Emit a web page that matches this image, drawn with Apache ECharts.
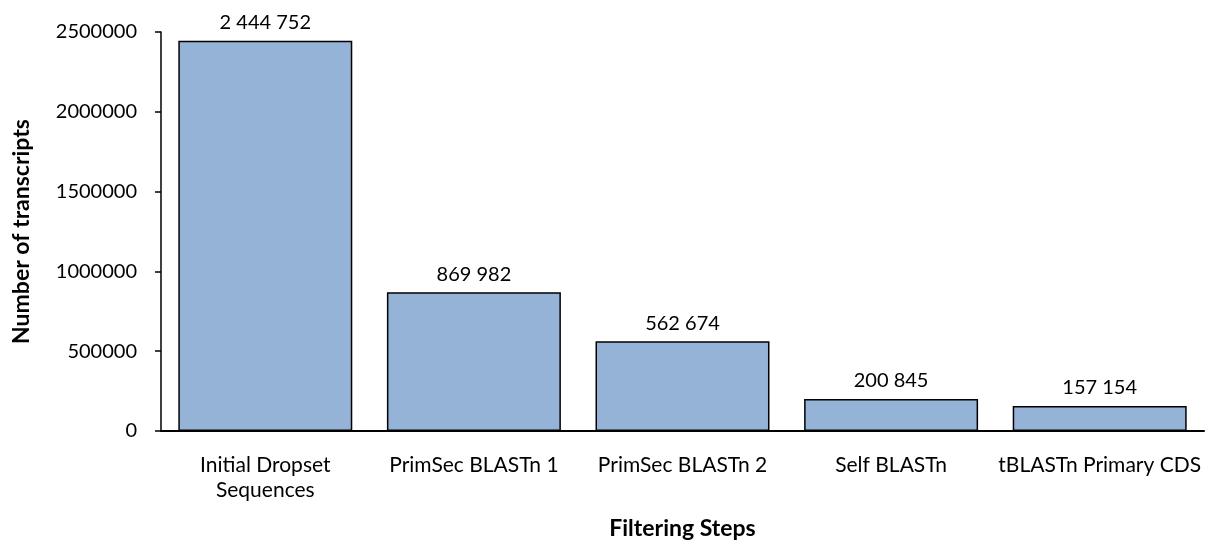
<!DOCTYPE html>
<html>
<head>
<meta charset="utf-8">
<script src="https://cdn.jsdelivr.net/npm/echarts@6/dist/echarts.min.js"></script>
<style>
  html, body { margin: 0; padding: 0; background: #fff; }
  #chart { width: 1216px; height: 543px; }
</style>
</head>
<body>
<div id="chart"></div>
<script>
// Filtering pipeline: transcripts retained after each step
const categories = [
  'Initial Dropset\nSequences',
  'PrimSec BLASTn 1',
  'PrimSec BLASTn 2',
  'Self BLASTn',
  'tBLASTn Primary CDS'
];
const transcripts = [2444752, 869982, 562674, 200845, 157154];
const yTicks = { min: 0, max: 2500000, interval: 500000 };

const FONT = 'Lato, "Open Sans", sans-serif';

// thousands grouped with a space, e.g. 2 444 752
function spaced(n) {
  return String(n).replace(/\B(?=(\d{3})+(?!\d))/g, ' ');
}

const chart = echarts.init(document.getElementById('chart'), null, { renderer: 'canvas' });
chart.setOption({
  animation: false,
  grid: { left: 161, right: 12, top: 32, bottom: 112, containLabel: false, outerBoundsMode: 'none' },
  xAxis: {
    type: 'category',
    data: categories,
    name: 'Filtering Steps',
    nameLocation: 'middle',
    nameGap: 86,
    nameTextStyle: { fontFamily: FONT, fontSize: 23, fontWeight: 'bold', color: '#000' },
    axisLine: { lineStyle: { color: '#000', width: 2 } },
    axisTick: { show: false },
    axisLabel: { fontFamily: FONT, fontSize: 21, color: '#000', margin: 22, lineHeight: 25, interval: 0 }
  },
  yAxis: {
    type: 'value',
    min: yTicks.min,
    max: yTicks.max,
    interval: yTicks.interval,
    name: 'Number of transcripts',
    nameLocation: 'middle',
    nameGap: 128,
    nameTextStyle: { fontFamily: FONT, fontSize: 23, fontWeight: 'bold', color: '#000' },
    splitLine: { show: false },
    axisLine: { show: true, lineStyle: { color: '#000', width: 1.5 } },
    axisTick: { show: true, length: 6, lineStyle: { color: '#000', width: 1.5 } },
    axisLabel: { fontFamily: FONT, fontSize: 20, color: '#000', margin: 24, formatter: v => String(v) }
  },
  series: [{
    type: 'bar',
    data: transcripts,
    barCategoryGap: '16.6%',
    itemStyle: { color: '#95B3D7', borderColor: '#000', borderWidth: 1.5 },
    label: {
      show: true,
      position: 'top',
      distance: 8,
      fontFamily: FONT,
      fontSize: 20,
      color: '#000',
      formatter: p => spaced(p.value)
    }
  }]
});
</script>
</body>
</html>
